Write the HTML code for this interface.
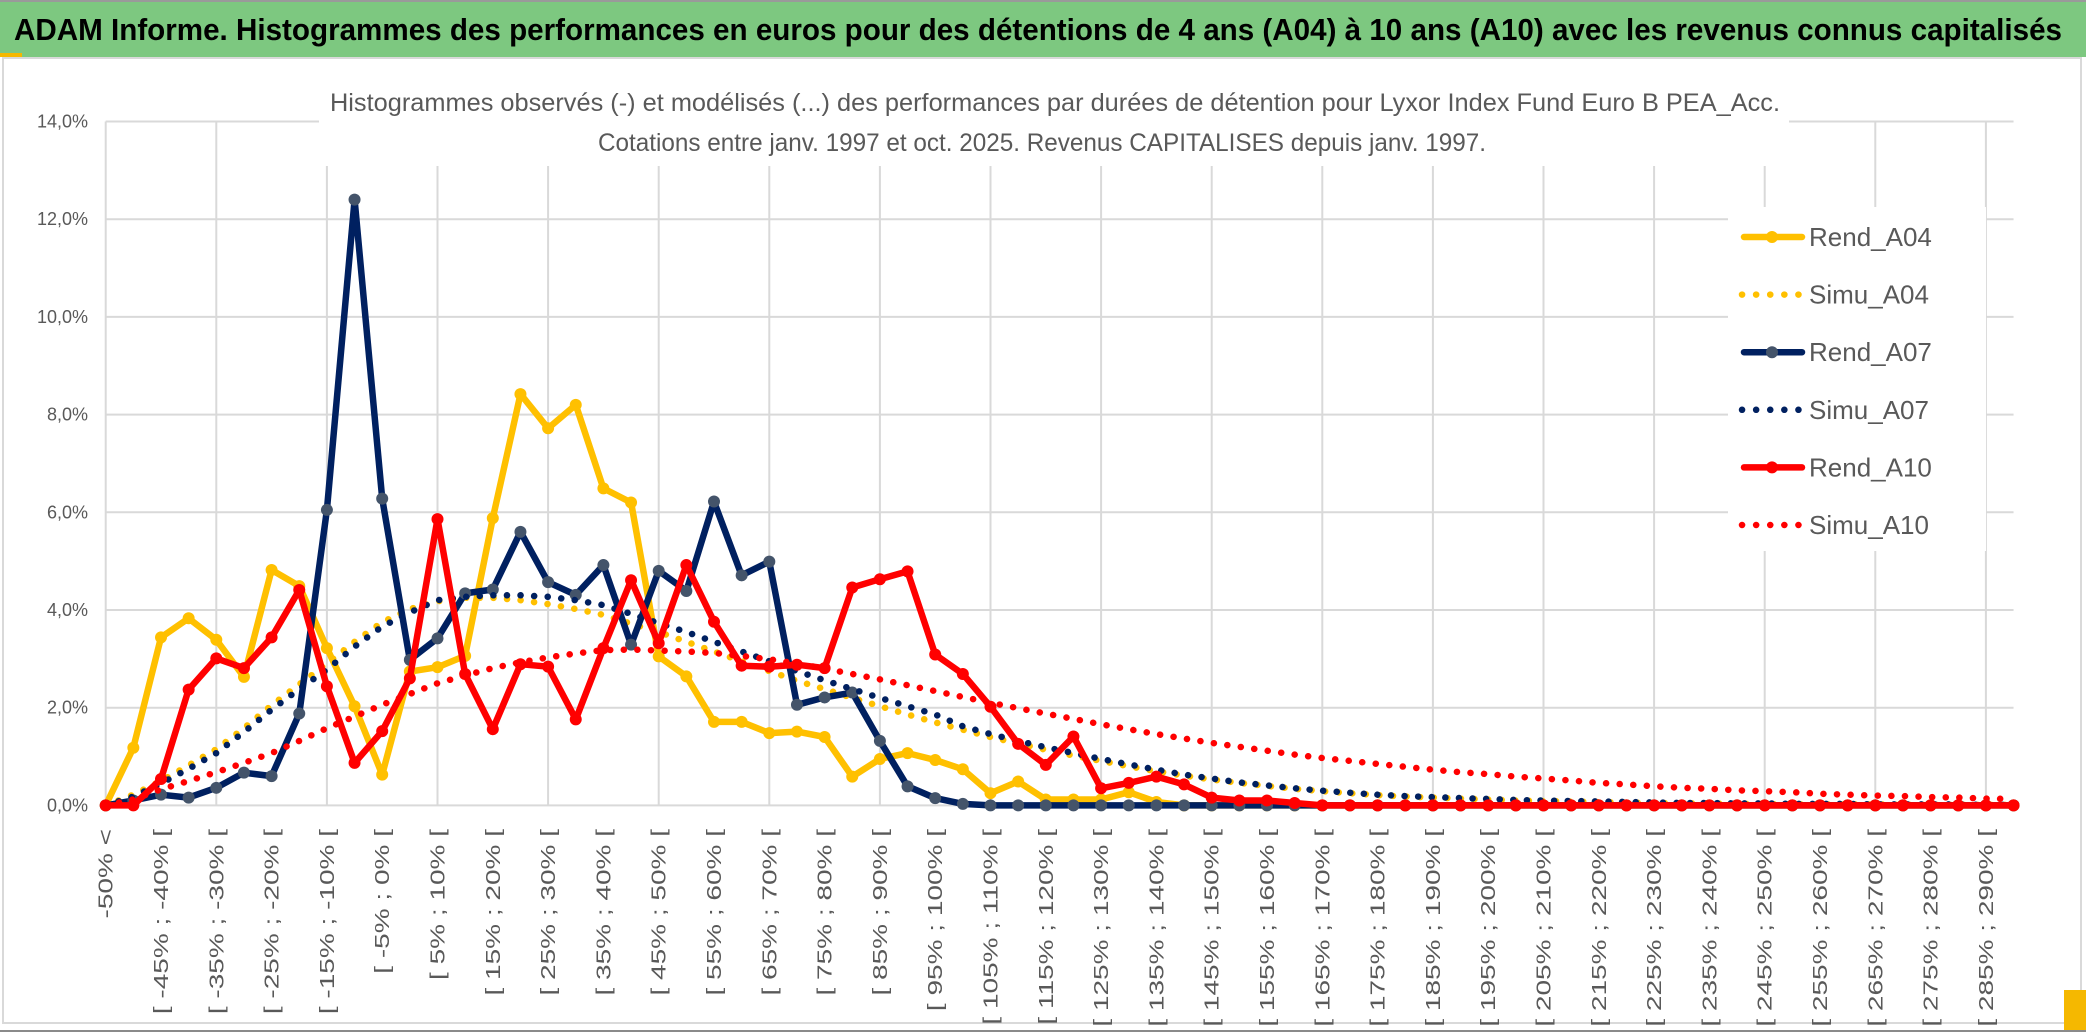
<!DOCTYPE html>
<html><head><meta charset="utf-8">
<style>
html,body{margin:0;padding:0;background:#fff;}
svg{display:block;}
.nar{font-family:"Liberation Sans Narrow","Liberation Sans",sans-serif;}
.lab{font-family:"Liberation Sans",sans-serif;}
</style></head>
<body>
<svg id="chart" width="2086" height="1033" viewBox="0 0 2086 1033" xmlns="http://www.w3.org/2000/svg">
  <rect x="0" y="0" width="2086" height="1033" fill="#fff"/>
  <rect x="0" y="0" width="2086" height="57" fill="#7DC880"/>
  <line x1="0" y1="1" x2="2086" y2="1" stroke="#9a9a9a" stroke-width="2"/>
  <text x="14" y="40" class="nar" font-size="31" font-weight="bold" fill="#000" textLength="2048" lengthAdjust="spacingAndGlyphs">ADAM Informe. Histogrammes des performances en euros pour des détentions de 4 ans (A04) à 10 ans (A10) avec les revenus connus capitalisés</text>
  <rect x="0" y="53" width="22" height="4" fill="#F5B800"/>
  <rect x="3" y="58" width="2078" height="965" fill="none" stroke="#d9d9d9" stroke-width="2"/>
  <line x1="0" y1="1031" x2="2086" y2="1031" stroke="#8a8a8a" stroke-width="2"/>
  <rect x="2064" y="990" width="22" height="40" fill="#F5B800"/>
  <g id="grid"></g>
  <g id="yaxis"></g>
  <g id="xaxis"></g>
  <rect x="319" y="82" width="1470" height="84" fill="#fff"/>
  <text x="1055" y="111" text-anchor="middle" class="nar" font-size="25" fill="#595959" textLength="1450" lengthAdjust="spacingAndGlyphs">Histogrammes observés (-) et modélisés (...) des performances par durées de détention pour Lyxor Index Fund Euro B PEA_Acc.</text>
  <text x="1042" y="151" text-anchor="middle" class="nar" font-size="25" fill="#595959" textLength="888" lengthAdjust="spacingAndGlyphs">Cotations entre janv. 1997 et oct. 2025. Revenus CAPITALISES depuis janv. 1997.</text>
  <g id="series"></g>
  <rect x="1728" y="207" width="258" height="344" fill="#fff"/>
  <g id="legend"></g>
</svg>
<script>
// ---- data ----
const categories = [];
categories.push("-50% <");
for (let k = 1; k < 70; k++) { categories.push("[ " + (-55 + 5 * k) + "% ; " + (-50 + 5 * k) + "% ["); }
const yTicks = [0, 2, 4, 6, 8, 10, 12, 14];
const yTickLabels = ["0,0%", "2,0%", "4,0%", "6,0%", "8,0%", "10,0%", "12,0%", "14,0%"];
const seriesNames = ["Rend_A04", "Simu_A04", "Rend_A07", "Simu_A07", "Rend_A10", "Simu_A10"];
const rendA04 = [0,1.18,3.44,3.83,3.39,2.63,4.82,4.49,3.22,2.03, 0.63,2.74,2.83,3.06,5.88,8.42,7.72,8.2,6.49,6.2, 3.05,2.64,1.71,1.71,1.48,1.51,1.4,0.59,0.95,1.07, 0.93,0.74,0.25,0.49,0.12,0.12,0.12,0.27,0.07,0, 0,0,0,0,0,0,0,0,0,0, 0,0,0,0,0,0,0,0,0,0, 0,0,0,0,0,0,0,0,0,0];
const simuA04 = [0,0.22,0.5,0.82,1.15,1.58,2.05,2.48,2.9,3.35, 3.75,4.02,4.18,4.25,4.25,4.2,4.12,4.02,3.9,3.72, 3.55,3.35,3.15,2.95,2.75,2.55,2.38,2.2,2.03,1.86, 1.7,1.55,1.4,1.27,1.14,1.02,0.91,0.8,0.7,0.61, 0.53,0.46,0.4,0.34,0.29,0.25,0.21,0.18,0.16,0.14, 0.12,0.1,0.09,0.08,0.07,0.06,0.05,0.04,0.04,0.03, 0.03,0.02,0.02,0.02,0.02,0.01,0.01,0.01,0.01,0.01];
const rendA07 = [0,0.1,0.22,0.16,0.36,0.67,0.6,1.88,6.05,12.4, 6.28,2.98,3.42,4.34,4.42,5.6,4.57,4.31,4.92,3.29, 4.8,4.39,6.22,4.71,4.99,2.06,2.21,2.31,1.32,0.39, 0.15,0.03,0,0,0,0,0,0,0,0, 0,0,0,0,0,0,0,0,0,0, 0,0,0,0,0,0,0,0,0,0, 0,0,0,0,0,0,0,0,0,0];
const simuA07 = [0,0.18,0.45,0.75,1.07,1.5,1.96,2.38,2.78,3.25, 3.66,3.95,4.2,4.27,4.3,4.3,4.27,4.2,4.1,3.92, 3.73,3.55,3.35,3.15,2.95,2.75,2.56,2.38,2.2,2.03, 1.86,1.62,1.46,1.32,1.19,1.07,0.95,0.84,0.73,0.63, 0.55,0.47,0.41,0.35,0.3,0.26,0.22,0.19,0.17,0.15, 0.13,0.11,0.1,0.09,0.08,0.07,0.06,0.05,0.05,0.04, 0.04,0.03,0.03,0.03,0.02,0.02,0.02,0.02,0.01,0.01];
const rendA10 = [0,0,0.54,2.37,3.01,2.81,3.44,4.41,2.44,0.87, 1.52,2.6,5.86,2.69,1.56,2.89,2.84,1.76,3.22,4.61, 3.32,4.92,3.76,2.86,2.84,2.88,2.81,4.46,4.63,4.79, 3.09,2.69,2.02,1.26,0.83,1.41,0.35,0.46,0.59,0.43, 0.16,0.1,0.1,0.05,0,0,0,0,0,0, 0,0,0,0,0,0,0,0,0,0, 0,0,0,0,0,0,0,0,0,0];
const simuA10 = [0,0.12,0.33,0.5,0.68,0.87,1.07,1.32,1.58,1.82, 2.06,2.28,2.5,2.66,2.81,2.93,3.03,3.11,3.18,3.19, 3.17,3.15,3.12,3.06,2.99,2.9,2.8,2.69,2.58,2.46, 2.34,2.22,2.1,1.99,1.88,1.77,1.66,1.56,1.46,1.37, 1.28,1.2,1.12,1.04,0.97,0.91,0.85,0.79,0.73,0.68, 0.64,0.59,0.55,0.51,0.46,0.43,0.39,0.36,0.34,0.31, 0.29,0.27,0.24,0.22,0.2,0.19,0.17,0.16,0.14,0.13];

// ---- axes ----
const NS = "http://www.w3.org/2000/svg";
const X0 = 105.7, STEP = 27.65, Y0 = 805.4, PX_PER_PCT = 48.85;
function xScale(i) { return X0 + i * STEP; }
function yScale(v) { return Y0 - v * PX_PER_PCT; }
function mk(tag, attrs, parent) {
  const e = document.createElementNS(NS, tag);
  for (const k in attrs) e.setAttribute(k, attrs[k]);
  parent.appendChild(e);
  return e;
}
const n = categories.length;
const grid = document.getElementById("grid");
yTicks.forEach((t) => {
  const l = mk("line", {x1: xScale(0), x2: xScale(n - 1), y1: yScale(t), y2: yScale(t), stroke: "#d9d9d9", "stroke-width": 2}, grid);
  
  
});
for (let i = 0; i < n; i += 4) {
  const l = mk("line", {x1: xScale(i), x2: xScale(i), y1: yScale(14), y2: yScale(0), stroke: "#d9d9d9", "stroke-width": 2}, grid);
  
  
}
const yaxis = document.getElementById("yaxis");
yTicks.forEach((t, k) => {
  const tx = mk("text", {x: 88, y: yScale(t) + 6, "text-anchor": "end", "font-size": 18, fill: "#595959", class: "nar"}, yaxis);
  tx.textContent = yTickLabels[k];
  
  
});
const xaxis = document.getElementById("xaxis");
for (let i = 0; i < n; i += 2) {
  const x = xScale(i) + 7, y = 829;
  const tx = mk("text", {x: 0, y: 0, "text-anchor": "end", "font-size": 20, fill: "#595959", class: "lab", transform: "translate(" + x + " " + y + ") rotate(-90) scale(1.4 1)"}, xaxis);
  tx.textContent = categories[i];
  
  
}

// ---- series ----
const seriesLayer = document.getElementById("series");
function pts(vals) { return vals.map((v, i) => xScale(i).toFixed(1) + "," + yScale(v).toFixed(1)).join(" "); }
function solid(vals, color, marker, name) {
  const g = mk("g", {}, seriesLayer);
  
  
  const pl = mk("polyline", {points: pts(vals), fill: "none", stroke: color, "stroke-width": 6.5, "stroke-linejoin": "round", "stroke-linecap": "round"}, g);
  
  
  vals.forEach((v, i) => {
    const c = mk("circle", {cx: xScale(i), cy: yScale(v), r: 6, fill: marker}, g);
    
    
  });
}
function dotted(vals, color, name) {
  const pl = mk("polyline", {points: pts(vals), fill: "none", stroke: color, "stroke-width": 6.5, "stroke-linecap": "round", "stroke-dasharray": "0.1 13.5"}, seriesLayer);
  
  
}
solid(rendA04, "#FFC000", "#FFC000", "rend-a04");
dotted(simuA04, "#FFC000", "simu-a04");
solid(rendA07, "#002060", "#44546A", "rend-a07");
dotted(simuA07, "#002060", "simu-a07");
solid(rendA10, "#FF0000", "#FF0000", "rend-a10");
dotted(simuA10, "#FF0000", "simu-a10");

// ---- legend ----
const legend = document.getElementById("legend");
const legColors = ["#FFC000", "#FFC000", "#002060", "#002060", "#FF0000", "#FF0000"];
const legMarkers = ["#FFC000", null, "#44546A", null, "#FF0000", null];
seriesNames.forEach((nm, k) => {
  const y = 237 + k * 57.6;
  const g = mk("g", {}, legend);
  
  
  if (k % 2 === 0) {
    mk("line", {x1: 1744, x2: 1802, y1: y, y2: y, stroke: legColors[k], "stroke-width": 6.5, "stroke-linecap": "round"}, g);
    mk("circle", {cx: 1772, cy: y, r: 6, fill: legMarkers[k]}, g);
  } else {
    mk("line", {x1: 1742, x2: 1800, y1: y, y2: y, stroke: legColors[k], "stroke-width": 6.5, "stroke-linecap": "round", "stroke-dasharray": "0.1 14"}, g);
  }
  const t = mk("text", {x: 1809, y: y + 9, "font-size": 26, fill: "#595959", class: "nar"}, g);
  t.textContent = nm;
});
</script>
</body></html>
